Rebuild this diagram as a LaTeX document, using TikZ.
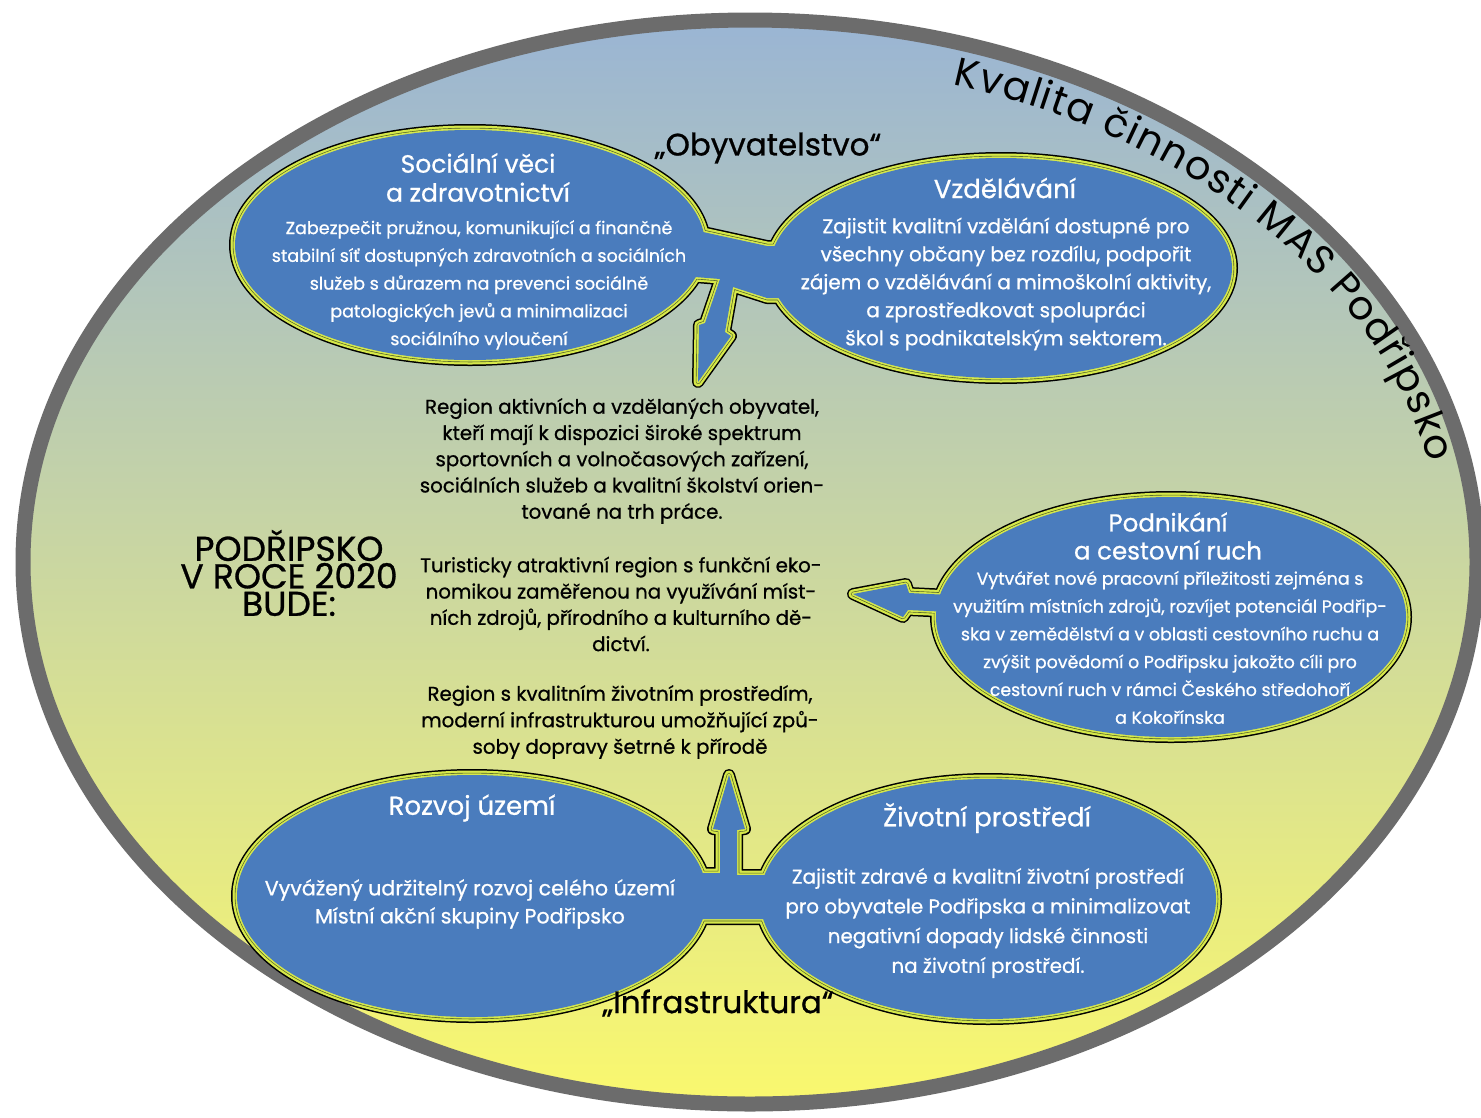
\documentclass[tikz,border=0pt]{standalone}
\usepackage{fontspec}
\setmainfont{Poppins}[FakeBold=0.8]
\newfontfamily\curvefont{Poppins}
\usetikzlibrary{decorations.text}
\definecolor{blu}{HTML}{4A7CBD}
\definecolor{ylw}{HTML}{D6E84A}
\definecolor{dkl}{HTML}{4F5F2A}
\definecolor{ringgray}{HTML}{6C6C6C}
\definecolor{bgtop}{HTML}{9AB5D4}
\definecolor{bgmid}{HTML}{C8D8A8}
\definecolor{bgbot}{HTML}{FAF86E}
\newcommand\fs[2]{\fontsize{#1}{#2}\selectfont}
\tikzset{
  shpAa/.style={insert path={(470,245) ellipse[x radius=235pt,y radius=115pt]}},
  shpAb/.style={insert path={(1001,268) ellipse[x radius=231pt,y radius=110pt]}},
  shpAc/.style={insert path={(690,232) -- (703,232) -- (767,246) -- (785,246) -- (785,298) -- (767,298) -- (733,287) -- (725,332) -- (731,336) -- (698,382) -- (699,325) -- (705,323) -- (720,279) -- (695,277) -- (690,277) -- cycle}},
  shpBa/.style={insert path={(472,896) ellipse[x radius=235pt,y radius=121pt]}},
  shpBb/.style={insert path={(988,899) ellipse[x radius=228pt,y radius=120pt]}},
  shpBc/.style={insert path={(690,873) -- (720,873) -- (720,830) -- (713,829) -- (729,775) -- (745,829) -- (737,830) -- (737,875) -- (775,875) -- (775,919) -- (690,919) -- cycle}},
  shpCa/.style={insert path={(1171,617) ellipse[x radius=235pt,y radius=120pt]}},
  shpCb/.style={insert path={(853,594) -- (906,584) -- (909,593) -- (950,595) -- (950,612) -- (908,610) -- (903,617) -- cycle}},
  wt/.style={text=white, align=center, inner sep=0pt},
  bk/.style={text=black, align=center, inner sep=0pt},
}
\begin{document}
\begin{tikzpicture}[x=1pt,y=-1pt]
\useasboundingbox (0,0) rectangle (1481,1117);
\fill[white] (0,0) rectangle (1481,1117);
% background ring
\path[top color=bgtop, middle color=bgmid, bottom color=bgbot] (750,562) ellipse[x radius=727pt,y radius=542pt];
\draw[ringgray, line width=15pt] (750,562) ellipse[x radius=727pt,y radius=542pt];
% curved title
\path[decorate, decoration={text along path, text align=fit to path,
  text={|\curvefont\fs{40}{40}|Kvalita činnosti MAS Podřipsko}}]
  (952.6,84.8) arc[start angle=73, end angle=11.5, x radius=693pt, y radius=499pt];
% group A (top)
\foreach \lw/\lc in {12/black,9/ylw,4.5/dkl,3.2/ylw}
  \path[draw=\lc, line width=\lw pt, line join=round, shpAa, shpAb, shpAc];
\path[fill=blu, shpAa]; \path[fill=blu, shpAb]; \path[fill=blu, shpAc];
% group B (bottom)
\foreach \lw/\lc in {12/black,9/ylw,4.5/dkl,3.2/ylw}
  \path[draw=\lc, line width=\lw pt, line join=round, shpBa, shpBb, shpBc];
\path[fill=blu, shpBa]; \path[fill=blu, shpBb]; \path[fill=blu, shpBc];
% group C (right)
\foreach \lw/\lc in {12/black,9/ylw,4.5/dkl,3.2/ylw}
  \path[draw=\lc, line width=\lw pt, line join=round, shpCa, shpCb];
\path[fill=blu, shpCa]; \path[fill=blu, shpCb];
% texts
\node[wt, font=\fs{25}{29}] (socT) at (478,177.5) {Sociální věci\\a zdravotnictví};
\node[wt, font=\fs{17.5}{27.75}] (socB) at (479,285) {Zabezpečit pružnou, komunikující a finančně\\stabilní síť dostupných zdravotních a sociálních\\služeb s důrazem na prevenci sociálně\\patologických jevů a minimalizaci\\sociálního vyloučení};
\node[wt, font=\fs{26}{29}] (vzdT) at (1005,188) {Vzdělávání};
\node[wt, font=\fs{20}{28}] (vzdB) at (1006,284) {Zajistit kvalitní vzdělání dostupné pro\\všechny občany bez rozdílu, podpořit\\zájem o vzdělávání a mimoškolní aktivity,\\a zprostředkovat spolupráci\\škol s podnikatelským sektorem.};
\node[bk, font=\fs{31}{34}] (oby) at (768,148) {„Obyvatelstvo“};
\node[wt, font=\fs{24.5}{28}] (podT) at (1168,536) {Podnikání\\a cestovní ruch};
\node[wt, font=\fs{17.4}{27.8}] (podB) at (1170,647.5) {Vytvářet nové pracovní příležitosti zejména s\\využitím místních zdrojů, rozvíjet potenciál Podřip-\\ska v zemědělství a v oblasti cestovního ruchu a\\zvýšit povědomí o Podřipsku jakožto cíli pro\\cestovní ruch v rámci Českého středohoří\\a Kokořínska};
\node[bk, font=\fs{19.8}{26.25}] (par1) at (622,461) {Region aktivních a vzdělaných obyvatel,\\kteří mají k dispozici široké spektrum\\sportovních a volnočasových zařízení,\\sociálních služeb a kvalitní školství orien-\\tované na trh práce.};
\node[bk, font=\fs{19.8}{26.3}] (par2) at (621,604) {Turisticky atraktivní region s funkční eko-\\nomikou zaměřenou na využívání míst-\\ních zdrojů, přírodního a kulturního dě-\\dictví.};
\node[bk, font=\fs{19.8}{26.5}] (par3) at (620,722) {Region s kvalitním životním prostředím,\\moderní infrastrukturou umožňující způ-\\soby dopravy šetrné k přírodě};
\node[bk, font=\fs{34.5}{27.5}] (pod2020) at (289,573) {PODŘIPSKO\\V ROCE 2020\\BUDE:};
\node[wt, font=\fs{26}{29}] (rozT) at (472,808) {Rozvoj území};
\node[wt, font=\fs{20.6}{28}] (rozB) at (470,904) {Vyvážený udržitelný rozvoj celého území\\Místní akční skupiny Podřipsko};
\node[wt, font=\fs{26}{29}] (zivT) at (987,818) {Životní prostředí};
\node[wt, font=\fs{19.9}{29.7}] (zivB) at (988,923) {Zajistit zdravé a kvalitní životní prostředí\\pro obyvatele Podřipska a minimalizovat\\negativní dopady lidské činnosti\\na životní prostředí.};
\node[bk, font=\fs{31}{34}] (infra) at (718,1003) {„Infrastruktura“};
\end{tikzpicture}
\end{document}
